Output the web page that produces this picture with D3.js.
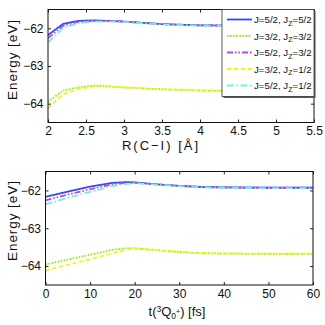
<!DOCTYPE html>
<html lang="en">
<head>
  <meta charset="UTF-8">
  <title>Energy vs R(C-I) and t</title>
  <script src="https://d3js.org/d3.v7.min.js"></script>
  <style>
    body { margin: 0; background: white; font-family: "Liberation Sans", Arial, sans-serif; }
    svg text { fill: #111; }
  </style>
</head>
<body>
<svg width="325" height="325"></svg>
<script>
  // state labels, colours and dash patterns
  const seriesNames = ["J=5/2, J_Z=5/2", "J=3/2, J_Z=3/2", "J=5/2, J_Z=3/2", "J=3/2, J_Z=1/2", "J=5/2, J_Z=1/2"];
  const seriesColors = ["#2e4cf2", "#7dfa00", "#c03cff", "#f6f600", "#6cf4dc"];
  const seriesDash = [null, "1.5,1.6", "6,2,1.5,2,1.5,2", "4,3", "7,2.5,1.5,2.5"];

  // top panel: energy vs R(C-I)
  const rValues = [2, 2.2, 2.4, 2.6, 2.8, 3.0, 3.5, 4.0, 4.5, 5.0, 5.5];
  const rSeries = [
    [-62.18, -61.88, -61.80, -61.79, -61.80, -61.82, -61.89, -61.92, -61.93, -61.93, -61.93],
    [-63.95, -63.65, -63.57, -63.52, -63.54, -63.57, -63.62, -63.65, -63.66, -63.66, -63.66],
    [-62.26, -61.93, -61.83, -61.80, -61.80, -61.82, -61.89, -61.92, -61.93, -61.93, -61.93],
    [-64.12, -63.75, -63.61, -63.55, -63.55, -63.57, -63.62, -63.65, -63.66, -63.66, -63.66],
    [-62.37, -61.99, -61.87, -61.82, -61.82, -61.83, -61.90, -61.93, -61.94, -61.94, -61.94]
  ];
  const rTicks = [2, 2.5, 3, 3.5, 4, 4.5, 5, 5.5];

  // bottom panel: energy vs time
  const tValues = [0, 5, 10, 15, 18, 20, 25, 30, 35, 40, 50, 60];
  const tSeries = [
    [-62.17, -62.03, -61.90, -61.80, -61.78, -61.79, -61.84, -61.88, -61.91, -61.92, -61.93, -61.93],
    [-63.96, -63.83, -63.70, -63.57, -63.53, -63.53, -63.58, -63.63, -63.66, -63.67, -63.68, -63.68],
    [-62.26, -62.11, -61.97, -61.84, -61.80, -61.80, -61.84, -61.88, -61.91, -61.92, -61.93, -61.93],
    [-64.12, -63.97, -63.82, -63.66, -63.57, -63.54, -63.58, -63.63, -63.66, -63.67, -63.68, -63.68],
    [-62.37, -62.20, -62.04, -61.89, -61.83, -61.81, -61.85, -61.89, -61.92, -61.93, -61.94, -61.94]
  ];
  const tTicks = [0, 10, 20, 30, 40, 50, 60];

  const yTicks = [-62, -63, -64];
  const yDomain = [-64.5, -61.5];

  const svg = d3.select("svg");
  const fmt = d => d3.format("")(d).replace("-", "\u2212");

  function panel(opts) {
    const {left, right, top, bottom, xDomain, xTicks, xs, series, xLabel, labelX, labelY, yLabelY} = opts;
    const x = d3.scaleLinear().domain(xDomain).range([left, right]);
    const y = d3.scaleLinear().domain(yDomain).range([bottom, top]);
    const g = svg.append("g");

    const clipId = "clip" + Math.round(top);
    g.append("clipPath").attr("id", clipId)
      .append("rect").attr("x", left).attr("y", top)
      .attr("width", right - left).attr("height", bottom - top);

    const line = d3.line().x((d, i) => x(xs[i])).y(d => y(d));
    const lines = g.append("g").attr("clip-path", `url(#${clipId})`);
    series.forEach((vals, k) => {
      lines.append("path")
        .attr("d", line(vals))
        .attr("fill", "none")
        .attr("stroke", seriesColors[k])
        .attr("stroke-width", 1.8)
        .attr("stroke-dasharray", seriesDash[k]);
    });

    // inward ticks on all four sides, matlab style
    const tl = 3;
    g.append("g").attr("transform", `translate(0,${bottom})`)
      .call(d3.axisBottom(x).tickValues(xTicks).tickSize(-tl).tickFormat(fmt).tickPadding(4))
      .call(a => a.select(".domain").remove());
    g.append("g").attr("transform", `translate(0,${top})`)
      .call(d3.axisTop(x).tickValues(xTicks).tickSize(-tl).tickFormat(""))
      .call(a => a.select(".domain").remove());
    g.append("g").attr("transform", `translate(${left},0)`)
      .call(d3.axisLeft(y).tickValues(yTicks).tickSize(-tl).tickFormat(fmt).tickPadding(4.5))
      .call(a => a.select(".domain").remove());
    g.append("g").attr("transform", `translate(${right},0)`)
      .call(d3.axisRight(y).tickValues(yTicks).tickSize(-tl).tickFormat(""))
      .call(a => a.select(".domain").remove());
    g.selectAll(".tick line").attr("stroke", "#222");
    g.selectAll(".tick text").attr("font-size", 12).attr("font-family", "Liberation Sans, Arial, sans-serif");

    g.append("rect")
      .attr("x", left).attr("y", top)
      .attr("width", right - left).attr("height", bottom - top)
      .attr("fill", "none").attr("stroke", "#111").attr("stroke-width", 1);

    const xl = g.append("text")
      .attr("x", labelX).attr("y", labelY)
      .attr("text-anchor", "middle").attr("font-size", 13);
    xLabel(xl);

    g.append("text")
      .attr("transform", `translate(16.5,${yLabelY}) rotate(-90)`)
      .attr("text-anchor", "middle").attr("font-size", 13.5)
      .attr("textLength", 80).attr("lengthAdjust", "spacing")
      .text("Energy [eV]");
    return g;
  }

  panel({
    left: 48, right: 314, top: 9.5, bottom: 122.5,
    xDomain: [2, 5.5], xTicks: rTicks, xs: rValues, series: rSeries,
    labelX: 160, labelY: 149.5, yLabelY: 60,
    xLabel: t => t.attr("textLength", 76).attr("lengthAdjust", "spacing").text("R(C\u2212I) [\u00c5]")
  });

  panel({
    left: 45.5, right: 313, top: 171.5, bottom: 285,
    xDomain: [0, 60], xTicks: tTicks, xs: tValues, series: tSeries,
    labelX: 177, labelY: 316, yLabelY: 221,
    xLabel: t => {
      t.append("tspan").text("t(");
      t.append("tspan").attr("font-size", 8.5).attr("dy", -4.5).text("3");
      t.append("tspan").attr("dy", 4.5).text("Q");
      t.append("tspan").attr("font-size", 8.5).attr("dy", 3).text("0");
      t.append("tspan").attr("font-size", 7).attr("dy", -5).text("+");
      t.append("tspan").attr("dy", 2).text(") [fs]");
    }
  });

  // legend
  const lg = svg.append("g");
  const lx = 222, ly = 9.5, lw = 92, lh = 87;
  lg.append("rect").attr("x", lx + 1.5).attr("y", ly + 1.5).attr("width", lw).attr("height", lh).attr("fill", "#555");
  lg.append("rect").attr("x", lx).attr("y", ly).attr("width", lw).attr("height", lh)
    .attr("fill", "white").attr("stroke", "#333").attr("stroke-width", 0.8);
  seriesNames.forEach((name, k) => {
    const yy = ly + 10 + k * 16.5;
    lg.append("line")
      .attr("x1", lx + 5).attr("x2", lx + 30).attr("y1", yy).attr("y2", yy)
      .attr("stroke", seriesColors[k]).attr("stroke-width", 1.8)
      .attr("stroke-dasharray", seriesDash[k]);
    const [a, b] = name.split("_Z");
    const t = lg.append("text").attr("x", lx + 32).attr("y", yy + 3.5).attr("font-size", 9.7);
    t.append("tspan").text(a);
    t.append("tspan").attr("font-size", 7).attr("dy", 2.5).text("Z");
    t.append("tspan").attr("dy", -2.5).text(b);
  });
</script>
</body>
</html>
